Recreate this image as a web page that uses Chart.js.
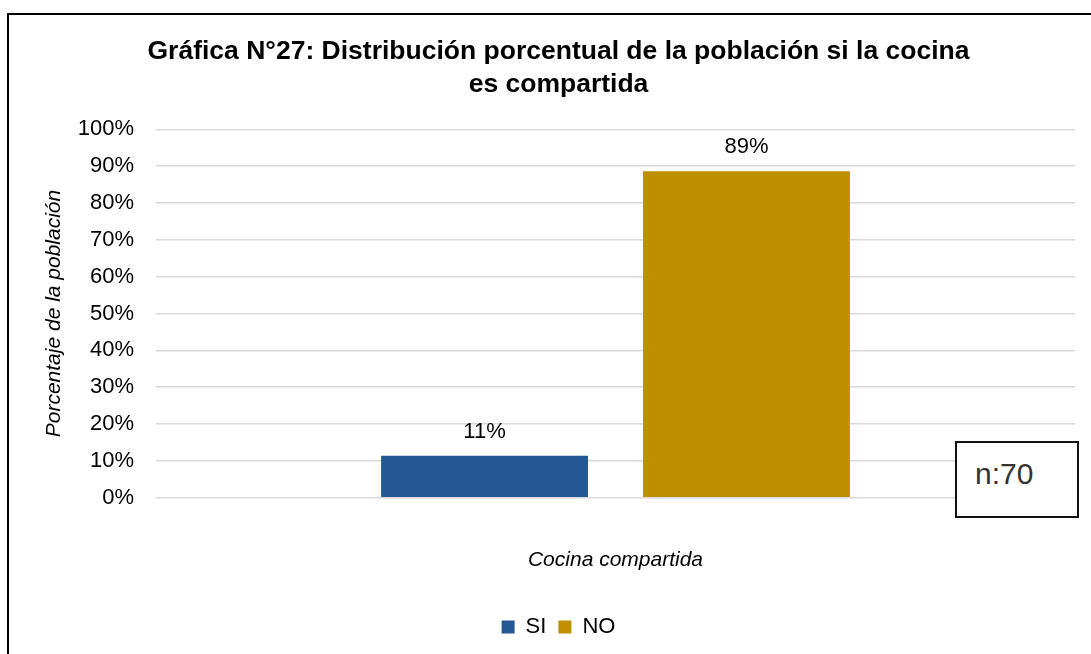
<!DOCTYPE html>
<html>
<head>
<meta charset="utf-8">
<script src="https://cdn.jsdelivr.net/npm/chart.js@4"></script>
<style>
    body { margin: 0; background: #fff; }
    #wrap { position: relative; width: 1091px; height: 654px; }
    #marco { position: absolute; left: 7px; top: 13px; right: -10px; bottom: -10px; border-left: 2px solid #000; border-top: 2px solid #000; }
    #nota { position: absolute; left: 955px; top: 441px; width: 124px; height: 77px; background: #fff; border: 2px solid #111; font-family: Arial, "Liberation Sans", sans-serif; font-size: 30px; color: #333; box-sizing: border-box; padding: 14px 0 0 18px; }
</style>
</head>
<body>
<div id="wrap">
    <canvas id="grafica"></canvas>
    <div id="marco"></div>
    <div id="nota">n:70</div>
</div>
<script>
// Datos
const categorias = [""];
const serieSI = [11.4];
const serieNO = [88.6];
const etiquetasY = ["0%", "10%", "20%", "30%", "40%", "50%", "60%", "70%", "80%", "90%", "100%"];

const fuente = "Arial, 'Liberation Sans', sans-serif";

// Etiquetas de datos encima de cada barra
const etiquetasBarras = {
    id: "etiquetasBarras",
    afterDatasetsDraw(chart) {
        const ctx = chart.ctx;
        ctx.save();
        ctx.font = "22px " + fuente;
        ctx.fillStyle = "#000";
        ctx.textAlign = "center";
        ctx.textBaseline = "middle";
        chart.data.datasets.forEach((ds, i) => {
            chart.getDatasetMeta(i).data.forEach((bar, j) => {
                ctx.fillText(Math.round(ds.data[j]) + "%", bar.x, bar.y - 24);
            });
        });
        ctx.restore();
    }
};

new Chart(document.getElementById("grafica"), {
    type: "bar",
    data: {
        labels: categorias,
        datasets: [
            { label: "SI", data: serieSI, backgroundColor: "#255797" },
            { label: "NO", data: serieNO, backgroundColor: "#bf8f00" }
        ]
    },
    options: {
        responsive: true,
        maintainAspectRatio: false,
        animation: false,
        layout: { padding: { top: 35, left: 42, right: 16, bottom: 6 } },
        datasets: { bar: { categoryPercentage: 0.57, barPercentage: 0.79 } },
        scales: {
            x: {
                grid: { display: false },
                border: { display: false },
                ticks: { display: false },
                title: {
                    display: true,
                    text: "Cocina compartida",
                    color: "#000",
                    font: { family: fuente, size: 21, style: "italic" },
                    padding: { top: 42, bottom: 31 }
                }
            },
            y: {
                min: 0,
                max: 100,
                afterFit: (escala) => { escala.width = 114; },
                ticks: {
                    stepSize: 10,
                    padding: 22,
                    color: "#000",
                    font: { family: fuente, size: 22 },
                    callback: (v) => etiquetasY[Math.round(v / 10)]
                },
                grid: { color: "#d9d9d9", lineWidth: 1.5, drawTicks: false },
                border: { display: false },
                title: {
                    display: true,
                    text: "Porcentaje de la población",
                    color: "#000",
                    font: { family: fuente, size: 21, style: "italic" },
                    padding: { top: 0, bottom: 10 }
                }
            }
        },
        plugins: {
            title: {
                display: true,
                text: ["Gráfica N°27: Distribución porcentual de la población si la cocina", "es compartida"],
                color: "#000",
                font: { family: fuente, size: 26.5, weight: "bold", lineHeight: 1.25 },
                padding: { top: 0, bottom: 28 }
            },
            legend: {
                position: "bottom",
                labels: {
                    color: "#000",
                    boxWidth: 13,
                    boxHeight: 13,
                    padding: 12,
                    font: { family: fuente, size: 22 }
                }
            },
            tooltip: { enabled: false }
        }
    },
    plugins: [etiquetasBarras]
});
</script>
</body>
</html>
